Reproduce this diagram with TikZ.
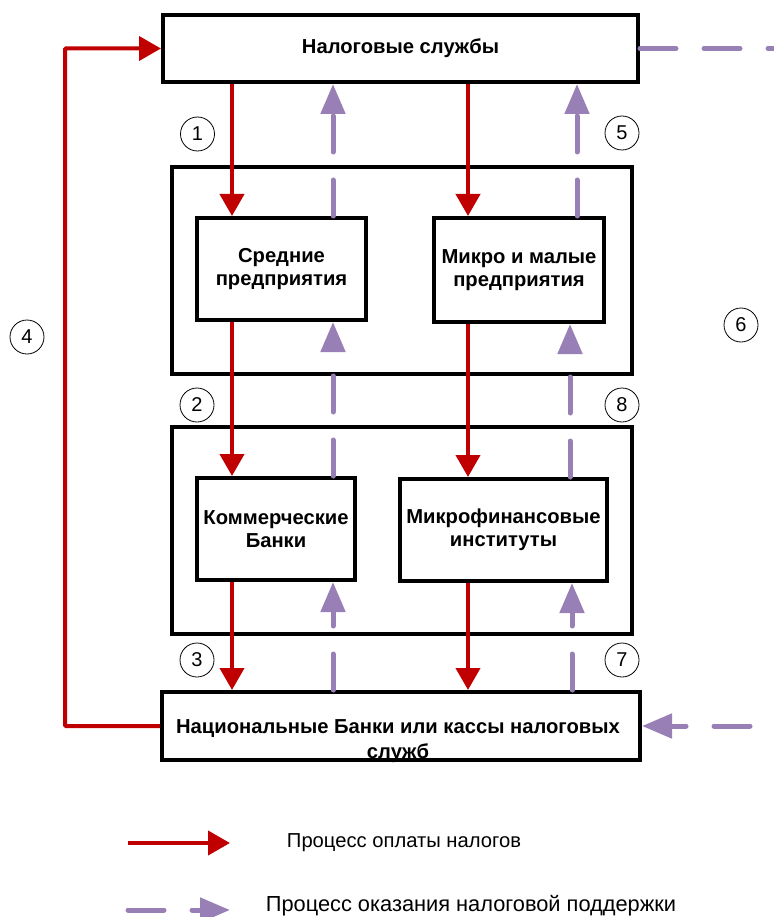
\documentclass[tikz,border=0pt]{standalone}
\usepackage{fontspec}
\setmainfont{Liberation Sans}
\usetikzlibrary{arrows.meta}
\definecolor{payred}{RGB}{192,0,0}
\definecolor{aidpurple}{RGB}{152,128,182}
\begin{document}
\begin{tikzpicture}[x=1pt,y=-1pt,
  box/.style={draw=black, line width=4pt, rectangle, inner sep=0pt, align=center,
    font=\fontsize{20.2}{23}\selectfont\bfseries},
  outer/.style={draw=black, line width=4pt, rectangle, inner sep=0pt},
  pay/.style={draw=payred, line width=4pt, -{Triangle[length=22pt,width=24pt]}},
  aid/.style={draw=aidpurple, line width=5pt, line cap=round, dash pattern=on 36pt off 28pt,
    -{Triangle[length=30pt,width=24pt]}},
  aidline/.style={draw=aidpurple, line width=5pt, line cap=round, dash pattern=on 36pt off 28pt},
  num/.style={draw=black, line width=0.8pt, circle, minimum size=34pt, inner sep=0pt,
    font=\fontsize{20}{22}\selectfont},
  legtext/.style={font=\fontsize{20.2}{24}\selectfont, anchor=center}
]
\useasboundingbox (0,0) rectangle (773,917);

% boxes
\node[outer, minimum width=460pt, minimum height=207pt] (o1) at (402,270.5) {};
\node[outer, minimum width=460pt, minimum height=207pt] (o2) at (402,530.5) {};
\node[box, minimum width=475pt, minimum height=67pt] (tax) at (400.5,48.5) {Налоговые службы};
\node[box, minimum width=169pt, minimum height=102pt] (sr) at (281.5,269) {Средние\\предприятия};
\node[box, minimum width=170pt, minimum height=104pt] (mm) at (519,270) {Микро и малые\\предприятия};
\node[box, minimum width=158pt, minimum height=102pt] (kb) at (276,529) {Коммерческие\\Банки};
\node[box, minimum width=207pt, minimum height=102pt] (mf) at (503.5,530) {Микрофинансовые\\институты};
\node[box, minimum width=478pt, minimum height=68pt] (nb) at (401,726) {};
\node[align=center, inner sep=0pt, font=\fontsize{20.2}{25}\selectfont\bfseries] (nbt) at (398,741)
  {Национальные Банки или кассы налоговых\\служб};

% x positions
\coordinate (ra) at (232,0);
\coordinate (rb) at (468,0);
\coordinate (pa) at (333,0);
\coordinate (pb1) at (577,0);
\coordinate (pb2) at (570,0);
\coordinate (pb3) at (572,0);

% payment arrows
\draw[pay] (tax.south -| ra) -- (sr.north -| ra);
\draw[pay] (tax.south -| rb) -- (mm.north -| rb);
\draw[pay] (sr.south -| ra) -- (kb.north -| ra);
\draw[pay] (mm.south -| rb) -- (mf.north -| rb);
\draw[pay] (kb.south -| ra) -- (nb.north -| ra);
\draw[pay] (mf.south -| rb) -- (nb.north -| rb);

% support arrows
\draw[aid] (sr.north -| pa) -- (tax.south -| pa);
\draw[aid] (mm.north -| pb1) -- (tax.south -| pb1);
\draw[aid] (kb.north -| pa) -- (sr.south -| pa);
\draw[aid] (mf.north -| pb2) -- (mm.south -| pb2);
\draw[aid] (nb.north -| pa) -- (kb.south -| pa);
\draw[aid] (nb.north -| pb3) -- (mf.south -| pb3);

% loop 4
\coordinate (c4a) at (65,726);
\coordinate (c4b) at (65,48.5);
\draw[pay, rounded corners=1pt] (nb.west) -- (c4a) -- (c4b) -- (tax.west);

% loop 6
\coordinate (c6a) at (775,48.5);
\coordinate (c6b) at (750,726);
\draw[aidline] (tax.east) -- (c6a);
\draw[aid] (c6b) -- (nb.east);

% numbers
\node[num] (n1) at (197.5,134) {1};
\node[num] (n5) at (622,133) {5};
\node[num] (n4) at (27,337) {4};
\node[num] (n6) at (741,325) {6};
\node[num] (n2) at (197,405) {2};
\node[num] (n8) at (622,405) {8};
\node[num] (n3) at (197,660) {3};
\node[num] (n7) at (622,660) {7};

% legend
\coordinate (l1a) at (128,843);
\coordinate (l1b) at (230,843);
\draw[pay] (l1a) -- (l1b);
\node[legtext] (t1) at (404,843) {Процесс оплаты налогов};
\coordinate (l2a) at (128,910);
\coordinate (l2b) at (230,910);
\draw[aid] (l2a) -- (l2b);
\node[legtext, font=\fontsize{21.8}{24}\selectfont] (t2) at (471,906) {Процесс оказания налоговой поддержки};
\end{tikzpicture}
\end{document}
